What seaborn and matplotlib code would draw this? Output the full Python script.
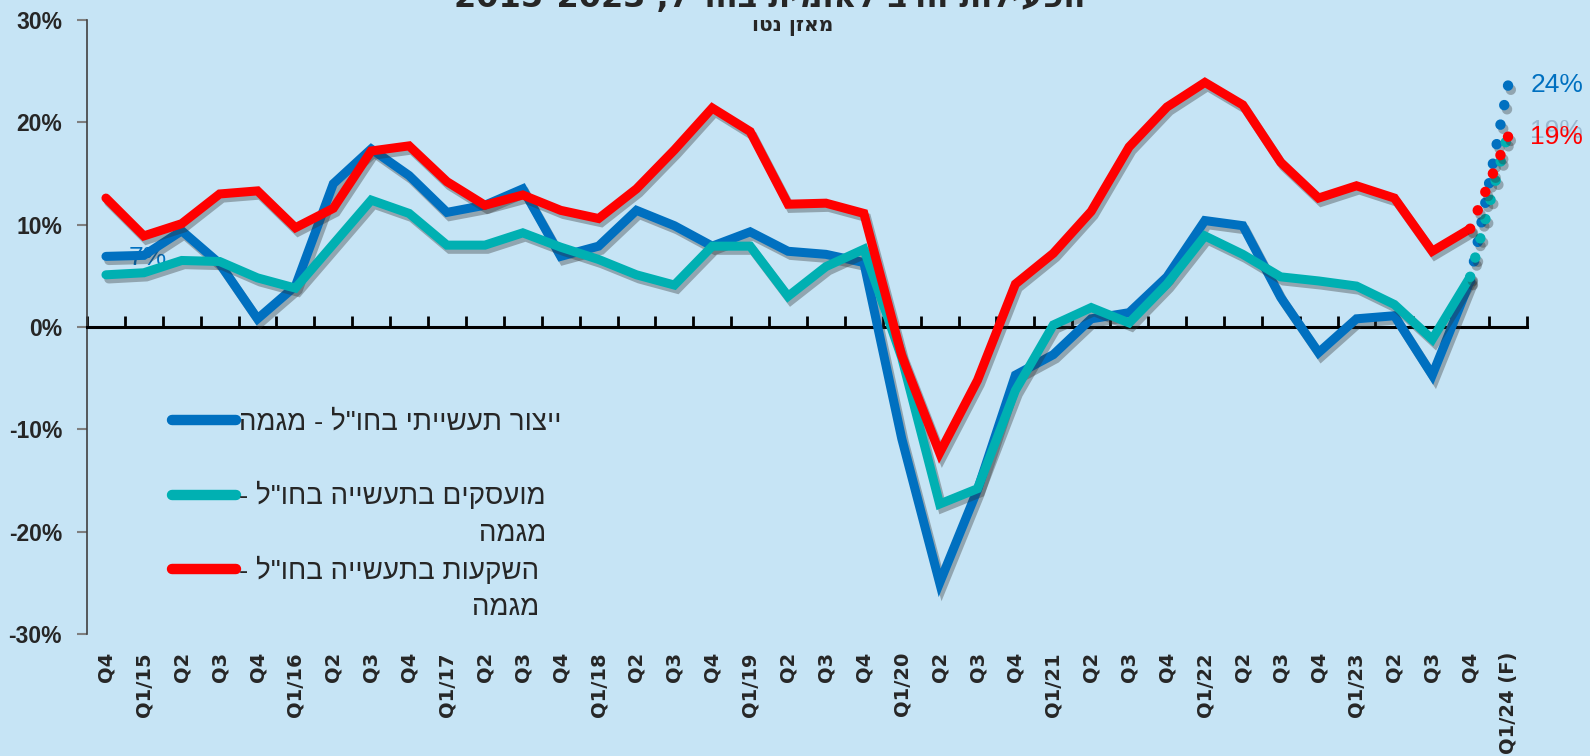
import matplotlib
matplotlib.use('Agg')
import matplotlib.pyplot as plt
import matplotlib.patheffects as pe
from matplotlib.lines import Line2D
import seaborn as sns
import numpy as np

# categories (Q4/14 .. Q1/24 forecast)
quarters = ['Q4', 'Q1/15', 'Q2', 'Q3', 'Q4', 'Q1/16', 'Q2', 'Q3', 'Q4', 'Q1/17', 'Q2', 'Q3', 'Q4',
            'Q1/18', 'Q2', 'Q3', 'Q4', 'Q1/19', 'Q2', 'Q3', 'Q4', 'Q1/20', 'Q2', 'Q3', 'Q4',
            'Q1/21', 'Q2', 'Q3', 'Q4', 'Q1/22', 'Q2', 'Q3', 'Q4', 'Q1/23', 'Q2', 'Q3', 'Q4', 'Q1/24 (F)']

# net balance, % (actuals Q4/14 - Q4/23)
production = [6.9, 7.0, 9.4, 6.2, 0.8, 4.0, 14.0, 17.4, 14.8, 11.2, 11.9, 13.5, 6.9, 7.9, 11.4, 9.9,
              7.9, 9.3, 7.4, 7.1, 6.3, -10.9, -25.0, -15.9, -4.7, -2.7, 0.8, 1.4, 4.9, 10.4, 9.9,
              2.9, -2.5, 0.8, 1.1, -4.7, 4.5]
employees = [5.1, 5.3, 6.5, 6.4, 4.8, 3.8, 8.1, 12.4, 11.1, 8.0, 8.0, 9.2, 7.8, 6.6, 5.1, 4.1,
             7.9, 7.9, 3.0, 5.9, 7.6, -3.0, -17.3, -15.8, -6.2, 0.2, 1.9, 0.4, 4.2, 8.9, 7.1,
             4.9, 4.5, 4.0, 2.2, -1.2, 4.9]
investments = [12.6, 8.9, 10.1, 13.0, 13.3, 9.7, 11.6, 17.2, 17.7, 14.2, 11.9, 12.9, 11.4, 10.6, 13.5, 17.3,
               21.4, 19.1, 12.0, 12.1, 11.1, -2.8, -12.3, -5.2, 4.2, 7.2, 11.3, 17.6, 21.5, 23.9, 21.7,
               16.1, 12.6, 13.8, 12.6, 7.4, 9.6]
# Q1/24 forecast
forecast = {'production': 23.6, 'employees': 18.9, 'investments': 18.6}

title_he = 'הפעילות הרב לאומית בחו"ל'
title_years = '2015-2023'
subtitle = 'מאזן נטו'
lbl_prod = 'ייצור תעשייתי בחו"ל - מגמה'
lbl_emp = 'מועסקים בתעשייה בחו"ל -'
lbl_inv = 'השקעות בתעשייה בחו"ל -'
lbl_tail = 'מגמה'

BLUE = '#0070C0'
TEAL = '#00B0B2'
RED = '#FF0000'
BG = '#C6E4F5'


def rtl(s):
    # matplotlib has no bidi support, draw hebrew in visual order
    return s[::-1]


sns.set_theme(style='white')
plt.rcParams['font.family'] = ['Liberation Sans', 'DejaVu Sans']
HEB = ['Liberation Sans', 'DejaVu Sans']

W, H = 1590, 756
fig = plt.figure(figsize=(W / 100, H / 100), dpi=100, facecolor=BG)
ax = fig.add_axes([87 / W, 1 - 634 / H, (1527 - 87) / W, (634 - 20) / H])
ax.set_facecolor(BG)

shadow = [pe.SimpleLineShadow(offset=(2, -3), shadow_color='#303030', alpha=0.35), pe.Normal()]
x_act = np.arange(len(production))
x_fc = [len(production) - 1, len(production)]

series = [('production', production, BLUE, 3),
          ('employees', employees, TEAL, 4),
          ('investments', investments, RED, 5)]

for name, vals, color, z in series:
    sns.lineplot(x=x_act, y=vals, ax=ax, color=color, lw=6.5, zorder=z,
                 solid_joinstyle='miter', solid_capstyle='round', path_effects=shadow)
    sns.lineplot(x=x_fc, y=[vals[-1], forecast[name]], ax=ax, color=color, lw=7.5, zorder=z,
                 linestyle=(0, (0.01, 1.9)), dash_capstyle='round', path_effects=shadow)

# data labels
lab_kw = dict(textcoords='offset points', va='center', ha='left', fontsize=19, family=HEB)
ax.annotate(f'{production[0]:.0f}%', (0, production[0]), xytext=(16, -1), color=BLUE, zorder=1, **lab_kw)
ax.annotate(f"{forecast['employees']:.0f}%", (37, forecast['employees']), xytext=(16, 2),
            color='#9BB8D0', zorder=6, **lab_kw)
ax.annotate(f"{forecast['investments']:.0f}%", (37, forecast['investments']), xytext=(16, 0),
            color=RED, zorder=7, **lab_kw)
ax.annotate(f"{forecast['production']:.0f}%", (37, forecast['production']), xytext=(16, 0),
            color=BLUE, zorder=7, **lab_kw)

# axes
ax.set_xlim(-0.5, len(quarters) - 0.5)
ax.set_ylim(-30, 30)
for s in ['top', 'right']:
    ax.spines[s].set_visible(False)
ax.spines['left'].set_color('#404040')
ax.spines['left'].set_linewidth(1.2)
ax.spines['bottom'].set_position(('data', 0))
ax.spines['bottom'].set_color('black')
ax.spines['bottom'].set_linewidth(2.2)

ax.set_xticks(np.arange(-0.5, len(quarters), 1))
ax.tick_params(axis='x', bottom=True, direction='in', length=8, width=2, color='black', labelbottom=False)
yt = np.arange(-30, 31, 10)
ax.set_yticks(yt)
ax.set_yticklabels([f'{v}%' for v in yt], fontweight='bold', fontsize=16.5)
ax.tick_params(axis='y', left=True, direction='out', length=7, width=1.5, color='#7F7F7F', pad=11)

sec = ax.secondary_xaxis(0)
sec.set_xticks(np.arange(len(quarters)))
sec.set_xticklabels(quarters, rotation=90, fontweight='bold', fontsize=14, family='DejaVu Sans')
sec.tick_params(length=0, pad=13)
sec.spines['bottom'].set_visible(False)

# legend
handles = [Line2D([], [], color=c, lw=7.5, solid_capstyle='round') for c in (BLUE, TEAL, RED)]
leg = ax.legend(handles, [rtl(lbl_prod), rtl(lbl_emp), rtl(lbl_inv)], loc='upper left',
                bbox_to_anchor=(172 / W, 1 - 410 / H), bbox_transform=fig.transFigure,
                frameon=False, borderpad=0, borderaxespad=0, handlelength=2.3, handletextpad=0.12,
                labelspacing=1.66, prop=dict(family=HEB, size=20))

# titles (top of the title is cut by the figure edge, as in the source)
fig.text(770 / W, 1 - 7 / H, title_years + ' ,' + rtl(title_he), ha='center', va='baseline',
         fontsize=23, fontweight='bold', family=['DejaVu Sans'])
fig.text(793 / W, 1 - 27 / H, rtl(subtitle), ha='center', va='center', fontsize=14.5,
         fontweight='bold', family=['DejaVu Sans'])

# second line of the wrapped legend labels, right aligned under the first one
fig.canvas.draw()
rend = fig.canvas.get_renderer()
texts = leg.get_texts()
for t in texts[1:]:
    bb = t.get_window_extent(rend)
    fig.text(bb.x1 / W, (bb.y0 + bb.y1) / 2 / H - 38 / H, rtl(lbl_tail), ha='right', va='center',
             fontsize=20, family=HEB)

fig.savefig('out.png', dpi=100, facecolor=BG)
